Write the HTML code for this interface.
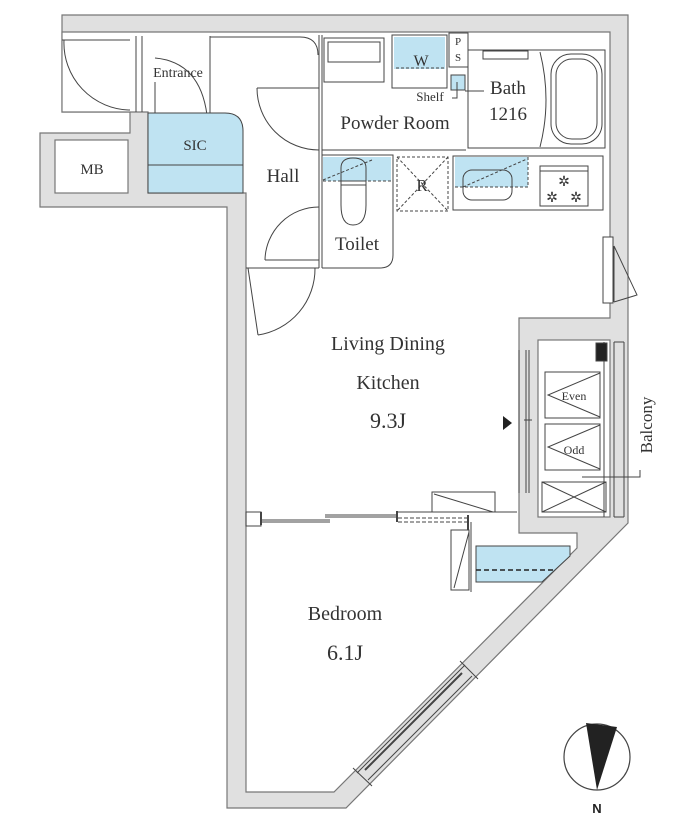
<!DOCTYPE html>
<html><head><meta charset="utf-8"><style>
html,body{margin:0;padding:0;background:#fff;}
svg{display:block;}
text{font-family:"Liberation Serif",serif;fill:#333;}
</style></head><body>
<svg width="700" height="829" viewBox="0 0 700 829" xmlns="http://www.w3.org/2000/svg">
<g stroke="#777" stroke-width="1.2">
<polygon points="62,15 628,15 628,523 346,808 227,808 227,207 40,207 40,133 130,133 130,112 62,112" fill="#e0e0e0"/>
<polygon points="62,32 610,32 610,318 519,318 519,533 577,533 577,548 334,792 246,792 246,193 148,193 148,112 62,112" fill="#fff"/>
<rect x="538" y="340" width="72" height="177" fill="#fff"/>
<rect x="55" y="140" width="73" height="53" fill="#fff"/>
</g>
<g fill="none" stroke="#444" stroke-width="1">
<line x1="62" y1="40" x2="130" y2="40"/>
<path d="M64,40 A67,67 0 0 0 130,110"/>
<line x1="136" y1="36" x2="136" y2="112"/><line x1="142" y1="36" x2="142" y2="112"/>
<line x1="210" y1="36" x2="210" y2="117"/>
<line x1="155" y1="82" x2="155" y2="117"/>
<path d="M155,58 Q200,62 207,115"/>
<path d="M210,37 L300,37 Q318,37 318,55"/>
<path d="M148,113 L225,113 Q243,113 243,131 L243,193 L148,193 Z" fill="#bfe3f2" stroke="#444"/>
<line x1="148" y1="165" x2="243" y2="165"/>
<line x1="319" y1="35" x2="319" y2="268"/><line x1="322" y1="35" x2="322" y2="268"/>
<line x1="257" y1="88" x2="319" y2="88"/>
<path d="M257,88 A62,62 0 0 0 319,150"/>
<line x1="322" y1="150" x2="466" y2="150"/>
<rect x="324" y="38" width="60" height="44"/>
<rect x="328" y="42" width="52" height="20"/>
<rect x="392" y="35" width="55" height="53" fill="#fff"/>
<rect x="394" y="37" width="51" height="32" fill="#bfe3f2" stroke="none"/>
<line x1="396" y1="68" x2="445" y2="68" stroke-dasharray="3,2"/>
<rect x="449" y="33" width="19" height="34"/>
<rect x="451" y="75" width="14" height="15" fill="#bfe3f2"/>
<path d="M457,82 L457,98 L452,98"/>
<line x1="465" y1="91" x2="484" y2="91"/>
<rect x="468" y="50" width="137" height="98"/>
<rect x="483" y="51" width="45" height="8"/>
<path d="M540,52 Q552,100 540,147"/>
<rect x="551" y="54" width="51" height="90" rx="20"/>
<rect x="556" y="59" width="41" height="80" rx="16"/>
<path d="M322,155 L393,155 L393,255 Q393,268 380,268 L322,268" />
<rect x="323" y="157" width="68" height="24" fill="#bfe3f2" stroke="none"/>
<line x1="323" y1="181" x2="391" y2="181" stroke-dasharray="3,2"/>
<path d="M341,181 L341,168 Q341,158 353,158 Q366,158 366,168 L366,181"/>
<rect x="341" y="181" width="25" height="4"/>
<path d="M341,185 L341,205 Q341,225 353,225 Q366,225 366,205 L366,185"/>
<line x1="323" y1="180" x2="372" y2="160" stroke-dasharray="3,2"/>
<line x1="265" y1="260" x2="319" y2="260"/>
<path d="M319,207 A54,54 0 0 0 265,260"/>
<line x1="246" y1="268" x2="319" y2="268"/>
<line x1="248" y1="268" x2="258" y2="335"/>
<path d="M258,335 A67,67 0 0 0 315,268"/>
<rect x="397" y="157" width="51" height="54" stroke-dasharray="3,2"/>
<line x1="397" y1="157" x2="448" y2="211" stroke-dasharray="3,2"/>
<line x1="448" y1="157" x2="397" y2="211" stroke-dasharray="3,2"/>
<rect x="453" y="156" width="150" height="54"/>
<rect x="455" y="157" width="73" height="30" fill="#bfe3f2" stroke="none"/>
<line x1="455" y1="187" x2="528" y2="187" stroke-dasharray="3,2"/>
<line x1="528" y1="157" x2="528" y2="187" stroke-dasharray="3,2"/>
<rect x="463" y="170" width="49" height="30" rx="9"/>
<line x1="463" y1="187" x2="527" y2="159" stroke-dasharray="3,2"/>
<rect x="540" y="166" width="48" height="40"/>
<line x1="540" y1="171" x2="588" y2="171"/>
<rect x="603" y="237" width="10" height="66" fill="#fff"/>
<line x1="614" y1="246" x2="614" y2="302"/>
<path d="M614,246 L637,295 L614,302"/>
<line x1="519" y1="350" x2="519" y2="493"/>
<line x1="526" y1="350" x2="526" y2="493"/><line x1="529" y1="350" x2="529" y2="493"/>
<line x1="524" y1="420" x2="532" y2="420"/>
<rect x="545" y="372" width="55" height="46"/>
<path d="M600,373 L548,395 L600,417"/>
<rect x="545" y="424" width="55" height="46"/>
<path d="M600,425 L548,447 L600,469"/>
<rect x="542" y="482" width="64" height="30"/>
<line x1="542" y1="482" x2="606" y2="512"/><line x1="606" y1="482" x2="542" y2="512"/>
<line x1="604" y1="342" x2="604" y2="517"/>
<line x1="614" y1="342" x2="614" y2="517"/><line x1="624" y1="342" x2="624" y2="517"/>
<line x1="614" y1="342" x2="624" y2="342"/><line x1="614" y1="517" x2="624" y2="517"/>
<rect x="596" y="343" width="11" height="18" fill="#222"/>
<path d="M582,477 L640,477 L640,470"/>
<rect x="246" y="512" width="15" height="14"/>
<line x1="261" y1="512" x2="261" y2="525" stroke-width="2"/>
<line x1="261" y1="520" x2="330" y2="520"/><line x1="261" y1="522" x2="330" y2="522"/>
<line x1="325" y1="517" x2="397" y2="517"/><line x1="325" y1="515" x2="397" y2="515"/>
<line x1="397" y1="511" x2="397" y2="522" stroke-width="2"/>
<line x1="397" y1="512" x2="517" y2="512"/>
<line x1="398" y1="518" x2="468" y2="518" stroke-dasharray="4,2"/>
<line x1="398" y1="522" x2="468" y2="522" stroke-dasharray="4,2"/>
<line x1="468" y1="515" x2="468" y2="530" stroke-width="2"/>
<rect x="432" y="492" width="63" height="20"/>
<line x1="434" y1="494" x2="493" y2="512"/>
<rect x="451" y="530" width="18" height="60"/>
<line x1="469" y1="532" x2="454" y2="588"/>
<line x1="471" y1="522" x2="471" y2="592"/>
<path d="M476,546 L570,546 L570,556 L542,582 L476,582 Z" fill="#bfe3f2"/>
<line x1="476" y1="570" x2="555" y2="570" stroke="#222" stroke-dasharray="5,3" stroke-width="1.5"/>
<line x1="357" y1="773" x2="465" y2="665"/>
<line x1="368" y1="780" x2="472" y2="676"/>
<line x1="365" y1="770" x2="462" y2="673" stroke-width="2"/>
<line x1="353" y1="768" x2="372" y2="786"/>
<line x1="460" y1="661" x2="478" y2="679"/>
</g>
<g font-size="14" text-anchor="middle" style="fill:#333">
<text x="564" y="186">✲</text>
<text x="552" y="202">✲</text>
<text x="576" y="202">✲</text>
</g>
<circle cx="597" cy="757" r="33" fill="none" stroke="#444" stroke-width="1.2"/>
<polygon points="586,723 617,727 597,790" fill="#222"/>
<text x="597" y="813" font-weight="bold" font-size="13" text-anchor="middle" style="font-family:'Liberation Sans',sans-serif;fill:#222">N</text>
<text x="178" y="77" font-size="14" text-anchor="middle">Entrance</text>
<text x="195" y="150" font-size="15" text-anchor="middle">SIC</text>
<text x="92" y="174" font-size="15" text-anchor="middle">MB</text>
<text x="283" y="182" font-size="19" text-anchor="middle">Hall</text>
<text x="421" y="66" font-size="16" text-anchor="middle">W</text>
<text x="458" y="45" font-size="11" text-anchor="middle">P</text>
<text x="458" y="61" font-size="11" text-anchor="middle">S</text>
<text x="430" y="101" font-size="13" text-anchor="middle">Shelf</text>
<text x="395" y="129" font-size="19" text-anchor="middle">Powder Room</text>
<text x="508" y="94" font-size="19" text-anchor="middle">Bath</text>
<text x="508" y="120" font-size="19" text-anchor="middle">1216</text>
<text x="357" y="250" font-size="19" text-anchor="middle">Toilet</text>
<text x="422" y="191" font-size="17" text-anchor="middle">R</text>
<text x="388" y="350" font-size="20" text-anchor="middle">Living Dining</text>
<text x="388" y="389" font-size="20" text-anchor="middle">Kitchen</text>
<text x="388" y="428" font-size="22" text-anchor="middle">9.3J</text>
<polygon points="503,416 503,430 512,423" fill="#222"/>
<text x="574" y="400" font-size="12" text-anchor="middle">Even</text>
<text x="574" y="454" font-size="12" text-anchor="middle">Odd</text>
<text transform="translate(652,425) rotate(-90)" font-size="17" text-anchor="middle">Balcony</text>
<text x="345" y="620" font-size="20" text-anchor="middle">Bedroom</text>
<text x="345" y="660" font-size="22" text-anchor="middle">6.1J</text>
</svg>
</body></html>
